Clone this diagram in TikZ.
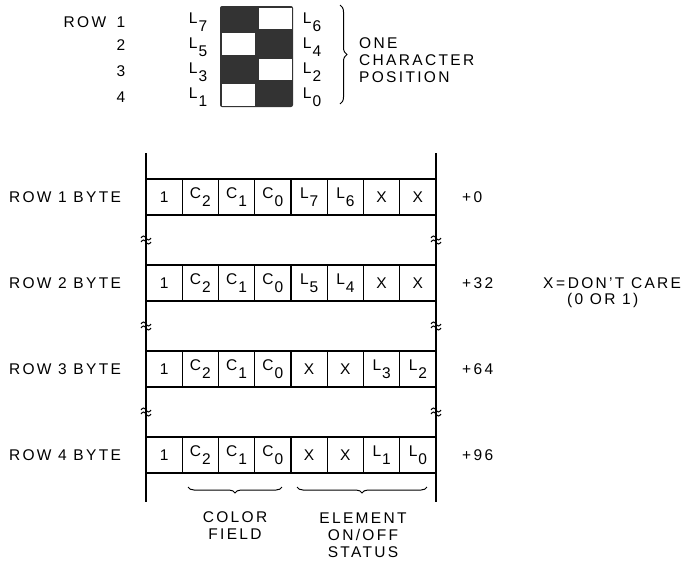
\documentclass[tikz,border=0pt]{standalone}
\usepackage{fontspec}
\setmainfont{Liberation Sans}[LetterSpace=15]
\usetikzlibrary{positioning,calc,decorations.pathreplacing}

\newcommand{\idx}[2]{#1\kern1pt\raisebox{-8pt}{#2}}

\begin{document}
\begin{tikzpicture}[x=1pt,y=-1pt,
    lbl/.style={font=\fontsize{15.5}{17}\selectfont, inner sep=0pt},
    cell/.style={lbl, draw, line width=1.4pt, minimum width=36.25pt, minimum height=36pt},
    pix/.style={fill=white, minimum width=33pt, minimum height=21.5pt, inner sep=0pt},
    rail/.style={line width=2.2pt},
    brk/.style={line width=1pt},
    brc/.style={decorate, line width=1pt}]
    \useasboundingbox (0,0) rectangle (682,563);
    % one character position
    \node[lbl] (rowtxt) at (85,22) {ROW};
    \foreach \r/\y in {1/22,2/45,3/71,4/97}
      \node[lbl] (num\r) at (121,\y) {\r};
    \fill[black!80, rounded corners=2pt] (220,6) rectangle (293,107);
    \foreach \r/\xx in {1/275,2/238.5,3/275,4/238.5}
      \node[pix] (pix\r) at (\xx,{18.5+25.5*(\r-1)}) {};
    \foreach \r/\a/\b in {1/7/6,2/5/4,3/3/2,4/1/0} {
      \node[lbl] (ll\r) at (198,{22.5+25*(\r-1)}) {\idx{L}{\a}};
      \node[lbl] (lr\r) at (312,{22.5+25*(\r-1)}) {\idx{L}{\b}};
    }
    \draw[brc, decoration={brace, amplitude=7pt}] (340,5) -- (340,104);
    \node[lbl, anchor=west, align=left] (onechar) at (359,60) {ONE\\CHARACTER\\POSITION};
    % byte rows
    \coordinate (railtl) at (146,153);
    \coordinate (railbl) at (146,502);
    \coordinate (railtr) at (436,153);
    \coordinate (railbr) at (436,502);
    \draw[rail] (railtl) -- (railbl);
    \draw[rail] (railtr) -- (railbr);
    \foreach \r/\off/\pa/\pb/\pc/\pd in {1/0/\idx{L}{7}/\idx{L}{6}/X/X,
        2/32/\idx{L}{5}/\idx{L}{4}/X/X,
        3/64/X/X/\idx{L}{3}/\idx{L}{2},
        4/96/X/X/\idx{L}{1}/\idx{L}{0}} {
      \node[lbl] (row\r) at (65,{197+86*(\r-1)}) {ROW \r\ BYTE};
      \node[lbl, anchor=west] (off\r) at (462,{197+86*(\r-1)}) {+\off};
      \foreach \t [count=\k] in {1,\idx{C}{2},\idx{C}{1},\idx{C}{0},\pa,\pb,\pc,\pd}
        \node[cell] (r\r c\k) at ({146+36.25*(\k-0.5)},{197+86*(\r-1)}) {\t};
    }
    % breaks in the rails
    \foreach \k in {1,2,3}
      \foreach \xx in {146,436} {
        \draw[brk] ({\xx-5},{238+86*(\k-1)}) sin ({\xx-2.5},{236+86*(\k-1)}) cos (\xx,{238+86*(\k-1)}) sin ({\xx+2.5},{240+86*(\k-1)}) cos ({\xx+5},{238+86*(\k-1)});
        \draw[brk] ({\xx-5},{242+86*(\k-1)}) sin ({\xx-2.5},{240+86*(\k-1)}) cos (\xx,{242+86*(\k-1)}) sin ({\xx+2.5},{244+86*(\k-1)}) cos ({\xx+5},{242+86*(\k-1)});
      }
    \node[lbl, anchor=west] (dontcare) at (543,283) {X\,=\,DON'T\ CARE};
    \node[lbl, anchor=west] (zeroone) at (567,300) {(0 OR 1)};
    % fields
    \draw[brc, decoration={brace, mirror, amplitude=6pt}] (188,487) -- (282,487);
    \draw[brc, decoration={brace, mirror, amplitude=6pt}] (297,487) -- (427,487);
    \node[lbl, align=center] (colorfield) at (235,526) {COLOR\\FIELD};
    \node[lbl, align=center] (element) at (363,535) {ELEMENT\\ON/OFF\\STATUS};
\end{tikzpicture}
\end{document}
